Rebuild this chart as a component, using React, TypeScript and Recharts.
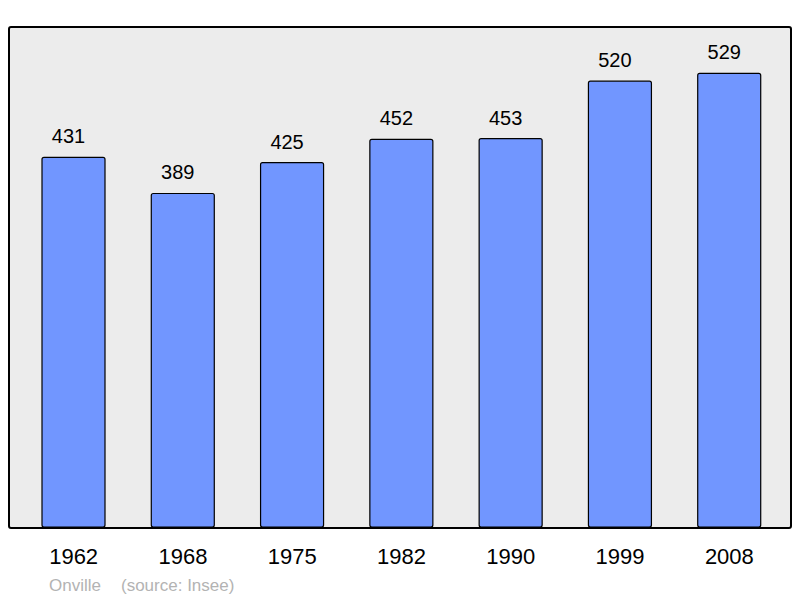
import React from "react";
import { BarChart, Bar, XAxis, YAxis, LabelList } from "recharts";

// census years and population (Onville, source Insee)
const years = ["1962", "1968", "1975", "1982", "1990", "1999", "2008"];
const population = [431, 389, 425, 452, 453, 520, 529];

const data = years.map((year, i) => ({ year, population: population[i] }));

const FONT = "'Liberation Sans', Arial, sans-serif";

// value above each bar, nudged a bit left like the original
const renderValue = (props: any) => {
  const { x, y, width, value } = props;
  return (
    <text
      x={Number(x) + Number(width) / 2 - 5}
      y={Number(y) - 14}
      textAnchor="middle"
      fontSize={20}
      fontFamily={FONT}
      fill="#000"
    >
      {value}
    </text>
  );
};

const App: React.FC = () => {
  return (
    <div style={{ position: "absolute", left: 0, top: 0, width: 800, height: 598, fontFamily: FONT }}>
      {/* grey framed plot background */}
      <div
        style={{
          position: "absolute",
          left: 8,
          top: 26,
          width: 784,
          height: 503,
          boxSizing: "border-box",
          border: "2px solid #000",
          borderRadius: 3,
          background: "#ececec",
        }}
      />
      <div style={{ position: "absolute", left: 0, top: 0 }}>
        <BarChart
          width={800}
          height={598}
          data={data}
          margin={{ top: 28, right: 10, bottom: 11, left: 10 }}
          barSize={63}
        >
          <XAxis
            dataKey="year"
            axisLine={false}
            tickLine={false}
            height={60}
            padding={{ left: 9, right: 6 }}
            tickMargin={15}
            interval={0}
            tick={{ fontSize: 22, fill: "#000", fontFamily: FONT }}
          />
          <YAxis hide domain={[0, 582]} />
          <Bar
            dataKey="population"
            fill="#7196ff"
            stroke="#000"
            strokeWidth={1.2}
            radius={2}
            isAnimationActive={false}
          >
            <LabelList dataKey="population" content={renderValue} />
          </Bar>
        </BarChart>
      </div>
      <div style={{ position: "absolute", left: 49, top: 576, fontSize: 17, color: "#b3b3b3" }}>
        Onville
      </div>
      <div style={{ position: "absolute", left: 121, top: 576, fontSize: 17, color: "#b3b3b3" }}>
        (source: Insee)
      </div>
    </div>
  );
};

export default App;
